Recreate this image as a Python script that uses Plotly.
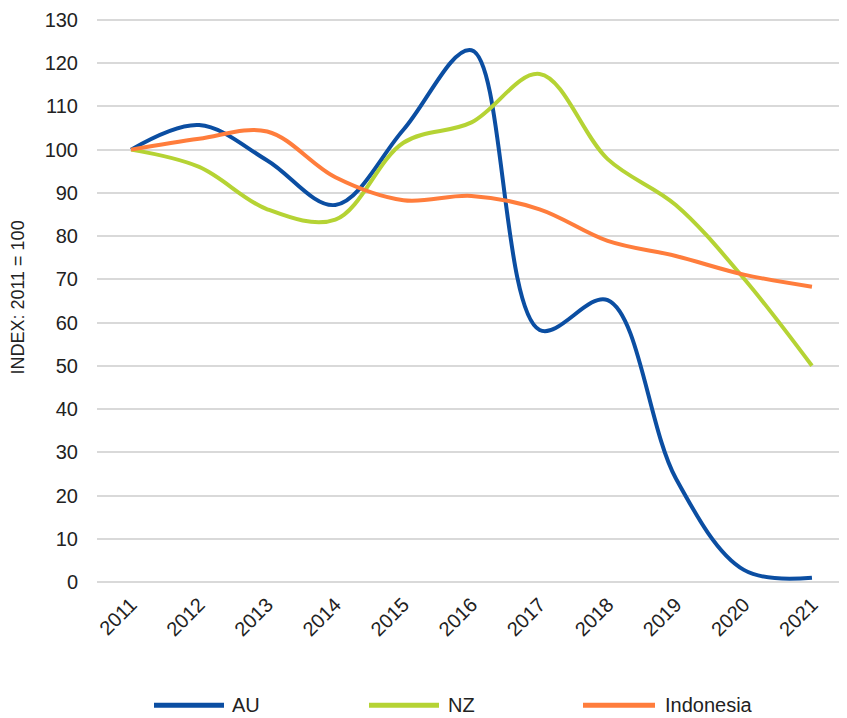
import plotly.graph_objects as go

years = ["2011", "2012", "2013", "2014", "2015", "2016", "2017", "2018", "2019", "2020", "2021"]
au = [100, 105.7, 97.5, 87.2, 104.6, 123, 58.3, 65.2, 24, 2.8, 1]
nz = [100, 96, 86.2, 83.8, 101.6, 106.3, 117.5, 97.8, 87.2, 70.2, 50]
indonesia = [100, 102.5, 104.2, 93.6, 88.3, 89.3, 86.2, 78.9, 75.4, 71.1, 68.3]
series_names = ["AU", "NZ", "Indonesia"]
colors = ["#0B4EA2", "#B5D334", "#FF7D3C"]
y_ticks = [0, 10, 20, 30, 40, 50, 60, 70, 80, 90, 100, 110, 120, 130]

# page body has an 8px margin, so the figure is offset by 8px
OFF = 8
W, H = 839, 710
Y_MAX = 131.6
PX_PER_UNIT = (582 - 16) / 130.0
ML, MR, MB = 97 - OFF, 1, 136
MT = (16 - OFF) - (Y_MAX - 130) * PX_PER_UNIT
PW = W - ML - MR
PH = H - MT - MB

FONT = "Liberation Sans, Arial, sans-serif"
TXT = "#222222"

fig = go.Figure()
for name, vals, col in zip(series_names, [au, nz, indonesia], colors):
    fig.add_trace(go.Scatter(
        x=years, y=vals, name=name, mode="lines",
        line=dict(color=col, width=4, shape="spline", smoothing=1.0),
        showlegend=False,
    ))

# custom legend (long line keys like the original), positions in reference pixels
legend_y_px = 706 - OFF
legend_items_px = [(154, 224, 230), (369, 439, 446), (583, 655, 663)]
shapes = []
annotations = []
ly = (MT + PH - legend_y_px) / PH
for (x0, x1, xt), name, col in zip(legend_items_px, series_names, colors):
    shapes.append(dict(type="line", xref="paper", yref="paper",
                       x0=(x0 - OFF - ML) / PW, x1=(x1 - OFF - ML) / PW, y0=ly, y1=ly,
                       line=dict(color=col, width=5)))
    annotations.append(dict(xref="paper", yref="paper", x=(xt - OFF - ML) / PW, y=ly,
                            text=name, showarrow=False, xanchor="left", yanchor="middle",
                            font=dict(family=FONT, size=20, color=TXT)))

fig.update_layout(
    width=W, height=H,
    margin=dict(l=ML, r=MR, t=MT, b=MB, pad=0),
    paper_bgcolor="white", plot_bgcolor="white",
    font=dict(family=FONT, color=TXT, size=20),
    shapes=shapes, annotations=annotations,
    showlegend=False,
)
fig.update_xaxes(
    type="category", range=[-0.5, 10.5],
    tickangle=-45, tickfont=dict(size=20, family=FONT, color=TXT),
    ticks="outside", ticklen=2, tickcolor="rgba(0,0,0,0)",
    showgrid=False, showline=False, zeroline=False,
)
fig.update_yaxes(
    range=[0, Y_MAX], tickvals=y_ticks,
    tickfont=dict(size=20, family=FONT, color=TXT),
    ticklabeloverflow="allow",
    ticks="outside", ticklen=14, tickcolor="rgba(0,0,0,0)",
    showgrid=True, gridcolor="#D9D9D9", gridwidth=2,
    zeroline=True, zerolinecolor="#D9D9D9", zerolinewidth=2,
    showline=False,
    title=dict(text="INDEX: 2011 = 100", font=dict(size=18, family=FONT, color=TXT), standoff=18),
)

fig.write_html("out.html")
